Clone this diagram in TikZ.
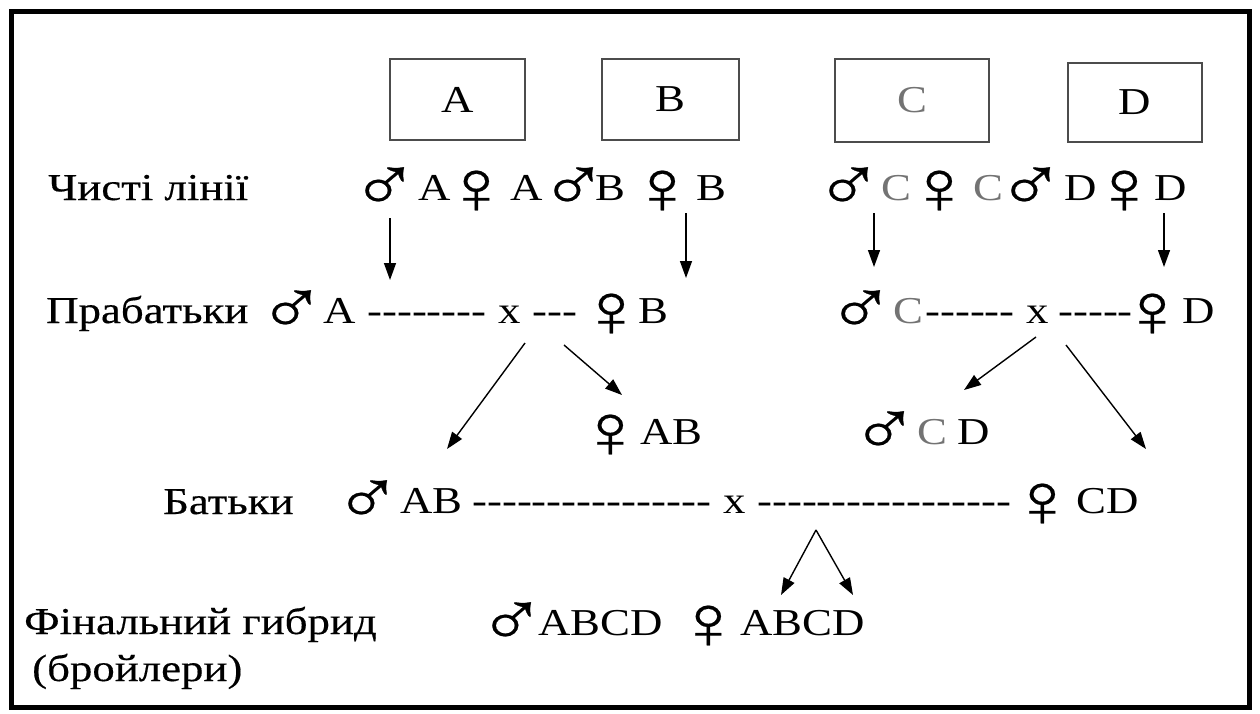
\documentclass[tikz,border=0pt]{standalone}
\usepackage{fontspec}
\setmainfont{Liberation Serif}[FakeStretch=1.18]
\newfontfamily\symb{Liberation Serif}[FakeStretch=1.18, FakeBold=0.25]
\newfontfamily\ttl{Liberation Serif}[FakeStretch=1.18, FakeBold=0.4]
\usetikzlibrary{arrows.meta}

% one hyphen, kept apart so that runs of them stay hyphens
\newcommand\hy{\mbox{-}}
\newcommand\hyrun[1]{\foreach \k in {1,...,#1}{\hy}}
% the lighter "C" used in some labels
\newcommand\lc{\textcolor{black!55}{C}}
% enlarged sex symbols, shifted so the ink starts at the node's west edge
\newcommand\Ml{\makebox[38pt][l]{\hspace*{-15pt}\raisebox{-11pt}{\scalebox{2.05}{\symb ♂}}}}
\newcommand\Fe{\makebox[27pt][l]{\hspace*{-19.5pt}\raisebox{-13.3pt}{\scalebox{2.0}{\symb ♀}}}}

\tikzset{
  lbl/.style={inner sep=0pt, anchor=base west, font=\fontsize{38}{44}\selectfont},
  title/.style={lbl, font=\fontsize{38}{44}\selectfont\ttl},
  linebox/.style={draw=black!70, line width=1.6pt, inner sep=0pt,
                  font=\fontsize{38}{44}\selectfont},
  arr/.style={line width=1.4pt, -{Triangle[length=17pt,width=12pt]}},
  frame/.style={line width=5pt, draw=black}
}

\begin{document}
\begin{tikzpicture}[x=1pt, y=-1pt]
  \useasboundingbox (0,0) rectangle (1260,713);
  \fill[white] (0,0) rectangle (1260,713);
  \draw[frame] (11,11) rectangle (1249,707);

  % line boxes
  \node[linebox, minimum width=135pt, minimum height=81pt] (bA) at (457.5,99.5) {A};
  \node[linebox, minimum width=137pt, minimum height=81pt] (bB) at (670.5,99.5) {B};
  \node[linebox, minimum width=154pt, minimum height=83pt] (bC) at (912,100.5) {\lc};
  \node[linebox, minimum width=134pt, minimum height=79pt] (bD) at (1135,102.5) {D};

  % row titles
  \node[title] (t1) at (48,200) {Чисті лінії};
  \node[title] (t2) at (46,323) {Прабатьки};
  \node[title] (t4) at (163,514) {Батьки};
  \node[title] (t5) at (24,634) {Фінальний гибрид};
  \node[title] (t5b) at (32,681) {(бройлери)};

  % row 1: pure lines
  \foreach \x/\t [count=\i] in {365/\Ml, 418/A, 462/\Fe, 510/A, 554/\Ml, 595/B,
      648/\Fe, 696/B, 829/\Ml, 881/\lc, 925/\Fe, 973/\lc, 1011/\Ml, 1064/D,
      1110/\Fe, 1154/D}
    \node[lbl] (r1-\i) at (\x,200) {\t};

  % row 2: great-grandparents
  \foreach \x/\t [count=\i] in {272/\Ml, 323/A, 367/\hyrun{8}, 498/x, 532/\hyrun{3},
      597/\Fe, 638/B, 841/\Ml, 893/\lc, 925/\hyrun{6}, 1026/x, 1058/\hyrun{5},
      1138/\Fe, 1182/D}
    \node[lbl] (r2-\i) at (\x,323) {\t};

  % row 3: grandparents
  \foreach \x/\t [count=\i] in {596/\Fe, 640/AB, 865/\Ml, 917/\lc, 957/D}
    \node[lbl] (r3-\i) at (\x,444) {\t};

  % row 4: parents
  \foreach \x/\t [count=\i] in {348/\Ml, 400/AB, 472/\hyrun{16}, 723/x,
      757/\hyrun{17}, 1028/\Fe, 1076/CD}
    \node[lbl] (r4-\i) at (\x,513) {\t};

  % row 5: final hybrid
  \foreach \x/\t [count=\i] in {492/\Ml, 538/ABCD, 694/\Fe, 740/ABCD}
    \node[lbl] (r5-\i) at (\x,635) {\t};

  % arrow ends
  \coordinate (a1s) at (390,218);  \coordinate (a1e) at (390,280);
  \coordinate (a2s) at (686,213);  \coordinate (a2e) at (686,278);
  \coordinate (a3s) at (874,213);  \coordinate (a3e) at (874,267);
  \coordinate (a4s) at (1164,213); \coordinate (a4e) at (1164,267);
  \coordinate (d1s) at (525,343);  \coordinate (d1e) at (447,449);
  \coordinate (d2s) at (564,345);  \coordinate (d2e) at (622,395);
  \coordinate (d3s) at (1036,337); \coordinate (d3e) at (964,390);
  \coordinate (d4s) at (1066,345); \coordinate (d4e) at (1146,449);
  \coordinate (apx) at (816,530);
  \coordinate (f1e) at (781,595);  \coordinate (f2e) at (853,595);

  \draw[arr] (a1s) -- (a1e);
  \draw[arr] (a2s) -- (a2e);
  \draw[arr] (a3s) -- (a3e);
  \draw[arr] (a4s) -- (a4e);
  \draw[arr] (d1s) -- (d1e);
  \draw[arr] (d2s) -- (d2e);
  \draw[arr] (d3s) -- (d3e);
  \draw[arr] (d4s) -- (d4e);
  \draw[arr] (apx) -- (f1e);
  \draw[arr] (apx) -- (f2e);
\end{tikzpicture}
\end{document}
